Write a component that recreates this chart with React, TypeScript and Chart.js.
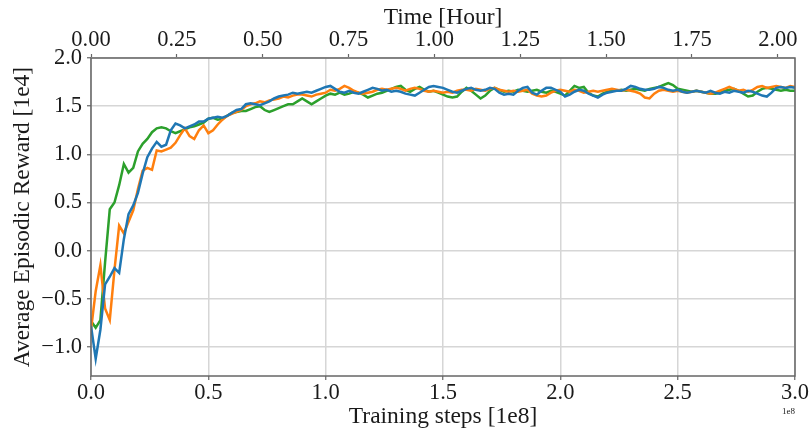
import { useEffect, useRef } from 'react';
import { Chart, registerables } from 'chart.js';

Chart.register(...registerables);

// Training steps [1e8]
const steps = [
  0.0, 0.02, 0.04, 0.06, 0.08, 0.1, 0.12, 0.14, 0.16, 0.18,
  0.2, 0.22, 0.24, 0.26, 0.28, 0.3, 0.32, 0.34, 0.36, 0.38,
  0.4, 0.42, 0.44, 0.46, 0.48, 0.5, 0.52, 0.54, 0.56, 0.58,
  0.6, 0.62, 0.64, 0.66, 0.68, 0.7, 0.72, 0.74, 0.76, 0.78,
  0.8, 0.82, 0.84, 0.86, 0.88, 0.9, 0.92, 0.94, 0.96, 0.98,
  1.0, 1.02, 1.04, 1.06, 1.08, 1.1, 1.12, 1.14, 1.16, 1.18,
  1.2, 1.22, 1.24, 1.26, 1.28, 1.3, 1.32, 1.34, 1.36, 1.38,
  1.4, 1.42, 1.44, 1.46, 1.48, 1.5, 1.52, 1.54, 1.56, 1.58,
  1.6, 1.62, 1.64, 1.66, 1.68, 1.7, 1.72, 1.74, 1.76, 1.78,
  1.8, 1.82, 1.84, 1.86, 1.88, 1.9, 1.92, 1.94, 1.96, 1.98,
  2.0, 2.02, 2.04, 2.06, 2.08, 2.1, 2.12, 2.14, 2.16, 2.18,
  2.2, 2.22, 2.24, 2.26, 2.28, 2.3, 2.32, 2.34, 2.36, 2.38,
  2.4, 2.42, 2.44, 2.46, 2.48, 2.5, 2.52, 2.54, 2.56, 2.58,
  2.6, 2.62, 2.64, 2.66, 2.68, 2.7, 2.72, 2.74, 2.76, 2.78,
  2.8, 2.82, 2.84, 2.86, 2.88, 2.9, 2.92, 2.94, 2.96, 2.98,
  3.0,
];

// Average episodic reward [1e4]
const blueReward = [
  -0.78, -1.12, -0.82, -0.35, -0.27, -0.18, -0.23, 0.12, 0.38, 0.47,
  0.6, 0.8, 0.97, 1.06, 1.13, 1.08, 1.1, 1.25, 1.32, 1.3,
  1.27, 1.29, 1.31, 1.34, 1.34, 1.37, 1.38, 1.39, 1.38, 1.4,
  1.43, 1.46, 1.47, 1.52, 1.53, 1.52, 1.51, 1.53, 1.55, 1.58,
  1.6, 1.61, 1.62, 1.64, 1.63, 1.64, 1.65, 1.64, 1.66, 1.68,
  1.7, 1.71, 1.68, 1.65, 1.64, 1.66, 1.64, 1.63, 1.65, 1.67,
  1.69, 1.68, 1.66, 1.67, 1.65, 1.66, 1.65, 1.63, 1.62, 1.61,
  1.64, 1.67, 1.7, 1.71, 1.7, 1.69, 1.67, 1.65, 1.64, 1.66,
  1.68, 1.69, 1.67, 1.66, 1.67, 1.69, 1.68, 1.64, 1.62, 1.63,
  1.62, 1.66, 1.69, 1.7, 1.64, 1.62, 1.66, 1.69, 1.69, 1.67,
  1.65, 1.6, 1.62, 1.65, 1.67, 1.66, 1.63, 1.61, 1.59, 1.62,
  1.64, 1.65, 1.66, 1.66, 1.68, 1.71, 1.7, 1.68, 1.67, 1.67,
  1.68, 1.7, 1.69, 1.67, 1.66, 1.67, 1.65, 1.64, 1.65, 1.66,
  1.65, 1.64, 1.66, 1.64, 1.63, 1.65, 1.64, 1.66, 1.65, 1.64,
  1.66, 1.65, 1.63, 1.61, 1.6, 1.64, 1.69, 1.7, 1.69, 1.7,
  1.69,
];

const orangeReward = [
  -0.82, -0.42, -0.15, -0.6, -0.72, -0.2, 0.26, 0.18, 0.3, 0.42,
  0.64, 0.83, 0.86, 0.84, 1.04, 1.03, 1.05, 1.07, 1.12, 1.2,
  1.27, 1.19, 1.16, 1.25, 1.3, 1.22, 1.25, 1.31, 1.36, 1.4,
  1.42, 1.44, 1.46, 1.5, 1.52, 1.53, 1.55, 1.54, 1.56, 1.57,
  1.58, 1.6, 1.59, 1.61, 1.62, 1.62, 1.61, 1.6, 1.62, 1.63,
  1.64, 1.67, 1.66, 1.68, 1.71, 1.69, 1.66, 1.64, 1.63, 1.64,
  1.65, 1.67, 1.68, 1.67, 1.68, 1.69, 1.68, 1.66, 1.68, 1.69,
  1.68, 1.66, 1.65, 1.66, 1.65, 1.64, 1.65, 1.64, 1.66, 1.67,
  1.67, 1.66, 1.68, 1.67, 1.66, 1.68, 1.69, 1.67, 1.66, 1.65,
  1.66, 1.65, 1.66, 1.67, 1.63, 1.61, 1.6, 1.61, 1.64, 1.66,
  1.67, 1.66, 1.65, 1.67, 1.66, 1.64, 1.65, 1.66, 1.65, 1.66,
  1.67, 1.68, 1.67, 1.66, 1.67, 1.66, 1.65, 1.63, 1.59, 1.58,
  1.63, 1.66, 1.67, 1.66, 1.65, 1.66, 1.65, 1.64, 1.65, 1.66,
  1.65, 1.64, 1.63, 1.64, 1.66, 1.68, 1.7, 1.68, 1.66, 1.67,
  1.65, 1.67, 1.7, 1.71, 1.69, 1.7, 1.71, 1.7, 1.69, 1.71,
  1.7,
];

const greenReward = [
  -0.73, -0.8, -0.72, -0.12, 0.43, 0.5, 0.68, 0.9, 0.81, 0.86,
  1.03, 1.11, 1.16, 1.23, 1.27, 1.28, 1.27, 1.24, 1.22, 1.24,
  1.26, 1.28, 1.29, 1.31, 1.33, 1.37, 1.38, 1.36, 1.37, 1.4,
  1.43, 1.44, 1.45, 1.45, 1.47, 1.49, 1.5, 1.46, 1.44, 1.46,
  1.48, 1.5, 1.52, 1.52, 1.55, 1.58, 1.55, 1.52, 1.55, 1.58,
  1.61, 1.63, 1.62, 1.64, 1.62, 1.63, 1.65, 1.64, 1.62, 1.59,
  1.61, 1.63, 1.64, 1.66, 1.68, 1.7, 1.71, 1.67, 1.65, 1.68,
  1.7, 1.67, 1.65, 1.66, 1.64, 1.62, 1.6, 1.59, 1.6, 1.65,
  1.69, 1.66, 1.62, 1.58, 1.61, 1.66, 1.69, 1.67, 1.65, 1.66,
  1.65, 1.67, 1.66, 1.65, 1.66, 1.67, 1.65, 1.64, 1.66, 1.65,
  1.63, 1.61, 1.66, 1.71, 1.69, 1.7, 1.64, 1.61, 1.6, 1.63,
  1.65, 1.66, 1.66, 1.67, 1.66, 1.67, 1.68, 1.67, 1.66, 1.68,
  1.69, 1.7, 1.72, 1.74, 1.72, 1.68, 1.67, 1.66, 1.65, 1.66,
  1.65, 1.64, 1.63, 1.63, 1.64, 1.66, 1.67, 1.68, 1.66, 1.63,
  1.6, 1.61, 1.65, 1.68, 1.69, 1.68, 1.67, 1.66, 1.67, 1.66,
  1.66,
];

const stepTicks = [0.0, 0.5, 1.0, 1.5, 2.0, 2.5, 3.0];
const hourTicks = [0.0, 0.25, 0.5, 0.75, 1.0, 1.25, 1.5, 1.75, 2.0];
const rewardTicks = [-1.0, -0.5, 0.0, 0.5, 1.0, 1.5, 2.0];

const FONT = "'Liberation Serif', 'Times New Roman', serif";
const TEXT = '#1a1a1a';
const GRID = '#d6d6d6';
const SPINE = '#666666';

const PAD_L = 6;
const PAD_T = 2;
const PAD_R = 16;
const PAD_B = 0;
const AREA_L = 91;
const AREA_T = 58;
const AREA_B = 376;
const H = 429;

const tickFont = { family: FONT, size: 22.5, lineHeight: 1 };
const titleFont = { family: FONT, size: 23.5, lineHeight: 1 };

export default function App() {
  const ref = useRef<HTMLCanvasElement>(null);

  useEffect(() => {
    if (!ref.current) return;
    const frame = {
      id: 'frame',
      afterDatasetsDraw(chart: any) {
        const { ctx, chartArea: a } = chart;
        ctx.save();
        ctx.strokeStyle = SPINE;
        ctx.lineWidth = 1.5;
        ctx.strokeRect(a.left, a.top, a.right - a.left, a.bottom - a.top);
        ctx.font = `9px ${FONT}`;
        ctx.fillStyle = TEXT;
        ctx.textAlign = 'right';
        ctx.textBaseline = 'middle';
        ctx.fillText('1e8', a.right, 412);
        ctx.restore();
      },
    };

    const mk = (vals: number[]) => steps.map((s, i) => ({ x: s, y: vals[i] }));

    const chart = new Chart(ref.current, {
      type: 'line',
      data: {
        datasets: [
          { data: mk(blueReward), borderColor: '#1f77b4', borderWidth: 2.5, pointRadius: 0, tension: 0, xAxisID: 'x', yAxisID: 'y' },
          { data: mk(orangeReward), borderColor: '#ff7f0e', borderWidth: 2.5, pointRadius: 0, tension: 0, xAxisID: 'x', yAxisID: 'y' },
          { data: mk(greenReward), borderColor: '#2ca02c', borderWidth: 2.5, pointRadius: 0, tension: 0, xAxisID: 'x', yAxisID: 'y' },
        ],
      },
      options: {
        animation: false,
        responsive: false,
        layout: { padding: { left: PAD_L, top: PAD_T, right: PAD_R, bottom: PAD_B } },
        plugins: { legend: { display: false }, tooltip: { enabled: false } },
        scales: {
          x: {
            type: 'linear',
            position: 'bottom',
            min: 0,
            max: 3.0,
            afterBuildTicks: (ax: any) => { ax.ticks = stepTicks.map((v) => ({ value: v })); },
            afterFit: (ax: any) => { ax.height = H - PAD_B - AREA_B; },
            ticks: { callback: (v: any) => Number(v).toFixed(1), font: tickFont, color: TEXT, padding: 1.5, maxRotation: 0, autoSkip: false },
            grid: { color: GRID, lineWidth: 1.5, tickLength: 4, tickColor: SPINE, tickWidth: 1.2 },
            border: { display: false },
            title: { display: true, text: 'Training steps [1e8]', font: titleFont, color: TEXT, padding: { top: 0, bottom: 0 } },
          },
          xTop: {
            type: 'linear',
            axis: 'x',
            position: 'top',
            min: 0,
            max: 2.05,
            afterBuildTicks: (ax: any) => { ax.ticks = hourTicks.map((v) => ({ value: v })); },
            afterFit: (ax: any) => { ax.height = AREA_T - PAD_T; },
            ticks: { callback: (v: any) => Number(v).toFixed(2), font: tickFont, color: TEXT, padding: 3, maxRotation: 0, autoSkip: false },
            grid: { drawOnChartArea: false, drawTicks: true, tickLength: 4, tickColor: SPINE, tickWidth: 1.2 },
            border: { display: false },
            title: { display: true, text: 'Time [Hour]', font: titleFont, color: TEXT, padding: { top: 4, bottom: 0 } },
          },
          y: {
            type: 'linear',
            position: 'left',
            min: -1.3,
            max: 2.0,
            afterBuildTicks: (ax: any) => { ax.ticks = rewardTicks.map((v) => ({ value: v })); },
            afterFit: (ax: any) => { ax.width = AREA_L - PAD_L; },
            ticks: { callback: (v: any) => Number(v).toFixed(1).replace('-', '\u2212'), font: tickFont, color: TEXT, padding: 5, autoSkip: false },
            grid: { color: GRID, lineWidth: 1.5, tickLength: 4, tickColor: SPINE, tickWidth: 1.2 },
            border: { display: false },
            title: { display: true, text: 'Average Episodic Reward [1e4]', font: titleFont, color: TEXT, padding: { top: 5.5, bottom: 0 } },
          },
        },
      },
      plugins: [frame],
    } as any);

    return () => chart.destroy();
  }, []);

  return (
    <div style={{ position: 'fixed', left: 0, top: 0, width: 811, height: 429, background: '#fff' }}>
      <canvas ref={ref} width={811} height={429} style={{ display: 'block' }} />
    </div>
  );
}
